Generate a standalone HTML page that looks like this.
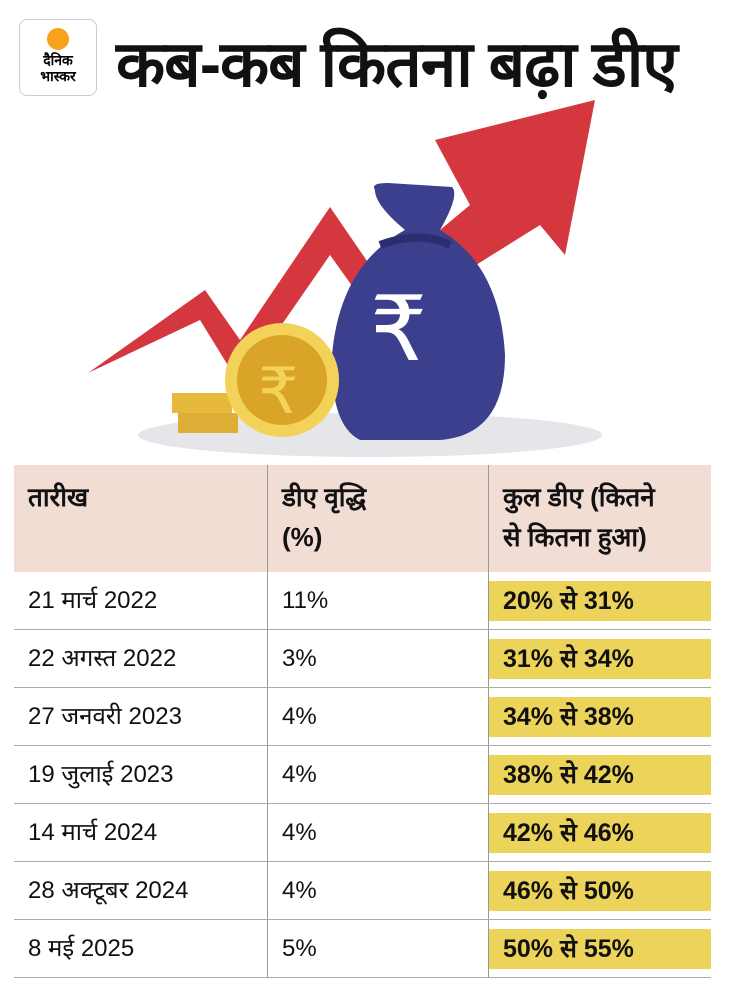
<!DOCTYPE html>
<html><head><meta charset="utf-8"><style>
body{margin:0;width:730px;height:1006px;background:#fff;font-family:"Liberation Sans","Noto Sans CJK SC",sans-serif;position:relative;overflow:hidden}
.abs{position:absolute}
.title{left:116px;top:18px;font-size:64px;font-weight:bold;color:#111;letter-spacing:-1px;white-space:nowrap}
.logo{left:19px;top:19px;width:76px;height:75px;border:1px solid #ccc;border-radius:8px;text-align:center}
table{position:absolute;left:14px;top:465px;width:697px;border-collapse:collapse;font-size:24px;color:#111}
th{background:#f1ddd4;text-align:left;vertical-align:top;font-weight:bold;padding:12px 14px 0;height:95px;line-height:40px;font-size:26px}
td{height:57px;border-bottom:1px solid #aaa;padding:0 14px;line-height:57px}
th+th,td+td{border-left:1px solid #999}
td.y{padding:0}
.y span{display:block;background:#ecd35a;margin:5px 0;height:40px;line-height:40px;padding-left:14px;font-weight:bold;font-size:25px}
</style></head><body>
<div class="abs logo"><div style="width:22px;height:22px;border-radius:50%;background:#f6a21a;margin:8px auto 2px"></div><div style="font-weight:bold;font-size:14px;line-height:16px">दैनिक<br>भास्कर</div></div>
<div class="abs title">कब-कब कितना बढ़ा डीए</div>
<svg class="abs" style="left:0;top:95px" width="730" height="370">
<ellipse cx="370" cy="340" rx="232" ry="22" fill="#e6e6ea"/>
<polygon points="88,278 205,195 240,245 330,112 380,185 470,110 435,45 595,5 565,160 540,130 380,230 330,160 240,290 200,225" fill="#d5373f"/>
<rect x="172" y="298" width="60" height="20" fill="#e6b93d"/><rect x="178" y="318" width="60" height="20" fill="#dcae35"/>
<path d="M375 95 Q370 88 388 88 L452 92 Q460 100 440 135 Q500 170 505 260 Q505 340 440 345 L360 345 Q330 330 332 260 Q340 170 405 135 Q375 110 375 95Z" fill="#3b3f8e"/>
<path d="M380 150 Q420 135 450 150" stroke="#2b2d6e" stroke-width="8" fill="none"/>
<text x="370" y="265" font-size="90" fill="#fff" font-family="DejaVu Sans">₹</text>
<circle cx="282" cy="285" r="57" fill="#f3d25a"/><circle cx="282" cy="285" r="45" fill="#d9a427"/>
<text x="258" y="318" font-size="64" fill="#f3d25a" font-family="DejaVu Sans">₹</text>
</svg>
<table>
<tr><th style="width:225px">तारीख</th><th style="width:192px">डीए वृद्धि<br>(%)</th><th>कुल डीए (कितने<br>से कितना हुआ)</th></tr>
<tr><td>21 मार्च 2022</td><td>11%</td><td class="y"><span>20% से 31%</span></td></tr>
<tr><td>22 अगस्त 2022</td><td>3%</td><td class="y"><span>31% से 34%</span></td></tr>
<tr><td>27 जनवरी 2023</td><td>4%</td><td class="y"><span>34% से 38%</span></td></tr>
<tr><td>19 जुलाई 2023</td><td>4%</td><td class="y"><span>38% से 42%</span></td></tr>
<tr><td>14 मार्च 2024</td><td>4%</td><td class="y"><span>42% से 46%</span></td></tr>
<tr><td>28 अक्टूबर 2024</td><td>4%</td><td class="y"><span>46% से 50%</span></td></tr>
<tr><td>8 मई 2025</td><td>5%</td><td class="y"><span>50% से 55%</span></td></tr>
</table>
</body></html>
